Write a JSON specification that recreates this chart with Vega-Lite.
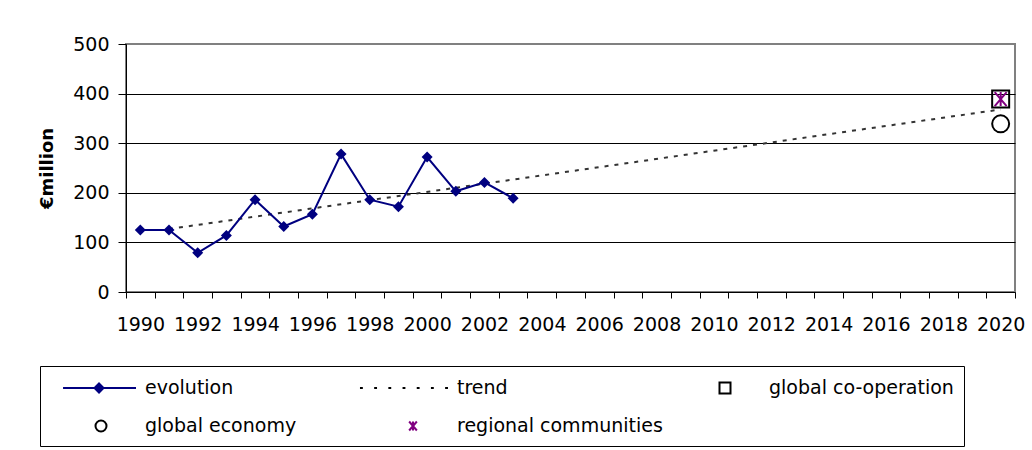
{
  "$schema": "https://vega.github.io/schema/vega-lite/v6.json",
  "autosize": "none",
  "width": 889,
  "height": 248,
  "padding": {"left": 126, "top": 44, "right": 17, "bottom": 158},
  "background": "white",
  "datasets": {
    "evolution": [
      {"year": 1990, "value": 125}, {"year": 1991, "value": 125}, {"year": 1992, "value": 79},
      {"year": 1993, "value": 114}, {"year": 1994, "value": 186}, {"year": 1995, "value": 132},
      {"year": 1996, "value": 157}, {"year": 1997, "value": 278}, {"year": 1998, "value": 186},
      {"year": 1999, "value": 172}, {"year": 2000, "value": 272}, {"year": 2001, "value": 203},
      {"year": 2002, "value": 221}, {"year": 2003, "value": 189}
    ],
    "trend": [
      {"year": 1991, "value": 127}, {"year": 2020, "value": 368}
    ],
    "scenarios": [
      {"year": 2020, "value": 389, "series": "global co-operation"},
      {"year": 2020, "value": 339, "series": "global economy"},
      {"year": 2020, "value": 389, "series": "regional communities"}
    ]
  },
  "encoding": {
    "x": {
      "field": "year", "type": "quantitative",
      "scale": {"domain": [1989.5, 2020.5], "nice": false, "zero": false},
      "axis": {
        "title": null,
        "grid": false,
        "values": [1989.5,1990,1990.5,1991,1991.5,1992,1992.5,1993,1993.5,1994,1994.5,1995,1995.5,1996,1996.5,1997,1997.5,1998,1998.5,1999,1999.5,2000,2000.5,2001,2001.5,2002,2002.5,2003,2003.5,2004,2004.5,2005,2005.5,2006,2006.5,2007,2007.5,2008,2008.5,2009,2009.5,2010,2010.5,2011,2011.5,2012,2012.5,2013,2013.5,2014,2014.5,2015,2015.5,2016,2016.5,2017,2017.5,2018,2018.5,2019,2019.5,2020,2020.5],
        "labelExpr": "datum.value % 2 == 0 ? '' + datum.value : ''",
        "labelOverlap": false,
        "labelFlush": false,
        "tickOpacity": {"condition": {"test": "datum.value % 1 == 0", "value": 0}, "value": 1},
        "tickSize": 6,
        "labelPadding": 17
      }
    },
    "y": {
      "field": "value", "type": "quantitative",
      "scale": {"domain": [0, 500], "nice": false},
      "axis": {
        "title": "€million",
        "values": [0, 100, 200, 300, 400, 500],
        "gridOpacity": {"condition": {"test": "datum.value == 500 || datum.value == 0", "value": 0}, "value": 1},
        "tickSize": 8,
        "labelPadding": 9,
        "titlePadding": 16
      }
    }
  },
  "layer": [
    {
      "data": {"name": "trend"},
      "mark": {"type": "line", "color": "#333333", "strokeWidth": 2, "strokeDash": [4, 6]}
    },
    {
      "data": {"name": "evolution"},
      "mark": {
        "type": "line", "color": "#000080", "strokeWidth": 2,
        "point": {"shape": "diamond", "filled": true, "color": "#000080", "size": 121}
      }
    },
    {
      "data": {"name": "scenarios"},
      "mark": {"type": "point", "filled": false, "size": 1156, "strokeWidth": 2, "opacity": 1},
      "encoding": {
        "shape": {
          "field": "series", "type": "nominal",
          "scale": {
            "domain": ["evolution", "trend", "global co-operation", "global economy", "regional communities"],
            "range": [
              "M-3.45,0H3.18M-0.18,-0.41L0.23,0L-0.18,0.41L-0.59,0Z",
              "M-4.82,0h0.26M-3.53,0h0.26M-2.24,0h0.26M-0.95,0h0.26M0.34,0h0.26M1.63,0h0.26M2.92,0h0.26",
              "M-0.5,-0.5H0.5V0.5H-0.5Z",
              "M-0.5,0A0.5,0.5 0 1,0 0.5,0A0.5,0.5 0 1,0 -0.5,0Z",
              "M-0.35,-0.41L0.35,0.41M-0.35,0.41L0.35,-0.41M0,-0.41V0.41"
            ]
          }
        },
        "color": {
          "field": "series", "type": "nominal",
          "scale": {
            "domain": ["evolution", "trend", "global co-operation", "global economy", "regional communities"],
            "range": ["#000080", "#000000", "#000000", "#000000", "#800080"]
          }
        },
        "fill": {
          "field": "series", "type": "nominal",
          "scale": {
            "domain": ["evolution", "trend", "global co-operation", "global economy", "regional communities"],
            "range": ["#000080", "transparent", "transparent", "transparent", "transparent"]
          }
        }
      }
    }
  ],
  "config": {
    "font": "DejaVu Sans",
    "view": {"stroke": "#808080", "strokeWidth": 2},
    "axis": {
      "labelFont": "DejaVu Sans",
      "labelFontSize": 19,
      "labelColor": "black",
      "domainColor": "black",
      "domainWidth": 1,
      "tickColor": "black",
      "tickWidth": 1,
      "gridColor": "black",
      "gridWidth": 1,
      "titleFont": "DejaVu Sans",
      "titleFontSize": 18,
      "titleFontWeight": "bold",
      "titleColor": "black"
    },
    "legend": {
      "orient": "none",
      "legendX": -86,
      "legendY": 322,
      "title": null,
      "columns": 3,
      "direction": "horizontal",
      "gridAlign": "all",
      "columnPadding": 4,
      "rowPadding": 16,
      "symbolSize": 484,
      "symbolOffset": 39,
      "symbolStrokeWidth": 2,
      "labelFont": "DejaVu Sans",
      "labelFontSize": 19,
      "labelColor": "black",
      "labelOffset": 32,
      "labelLimit": 400,
      "strokeColor": "black",
      "padding": 10
    }
  }
}
